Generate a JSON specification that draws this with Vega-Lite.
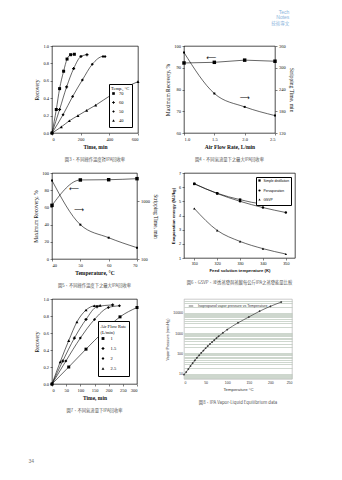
{
"$schema": "https://vega.github.io/schema/vega-lite/v6.json",
"background": "white",
"padding": {"left": 28, "top": 9, "right": 5, "bottom": 5},
"title": {"text": ["Tech", "Notes"], "subtitle": "技術專文", "anchor": "end", "frame": "bounds", "dx": -6, "font": "Liberation Sans", "fontSize": 5, "fontWeight": "normal", "color": "#8ab4dc", "subtitleFont": "Noto Sans CJK TC", "subtitleFontSize": 4.5, "subtitleColor": "#8ab4dc", "lineHeight": 5, "subtitlePadding": 1.5, "offset": 17},
"bounds": "flush",
"columns": 2,
"spacing": {"row": 40, "column": 46},
"resolve": {"scale": {"shape": "independent", "color": "independent"}, "legend": {"shape": "independent", "color": "independent"}},
"datasets": {
"p1": [
{"temp":"70","t":0,"r":0},{"temp":"70","t":30,"r":0.27},{"temp":"70","t":53,"r":0.51},{"temp":"70","t":81,"r":0.71},{"temp":"70","t":105,"r":0.85},{"temp":"70","t":130,"r":0.9},{"temp":"70","t":156,"r":0.905},
{"temp":"60","t":0,"r":0},{"temp":"60","t":53,"r":0.27},{"temp":"60","t":102,"r":0.53},{"temp":"60","t":151,"r":0.74},{"temp":"60","t":202,"r":0.88},{"temp":"60","t":244,"r":0.9},
{"temp":"50","t":0,"r":0},{"temp":"50","t":77,"r":0.21},{"temp":"50","t":144,"r":0.42},{"temp":"50","t":212,"r":0.61},{"temp":"50","t":281,"r":0.79},{"temp":"50","t":356,"r":0.88},{"temp":"50","t":370,"r":0.88},
{"temp":"40","t":0,"r":0},{"temp":"40","t":65,"r":0.07},{"temp":"40","t":121,"r":0.14},{"temp":"40","t":181,"r":0.2},{"temp":"40","t":242,"r":0.26},{"temp":"40","t":305,"r":0.32},{"temp":"40","t":416,"r":0.44},{"temp":"40","t":481,"r":0.5},{"temp":"40","t":544,"r":0.55},{"temp":"40","t":600,"r":0.59}
],
"p2a": [{"flow":1.0,"rec":92.2},{"flow":1.5,"rec":92.5},{"flow":2.0,"rec":93.5},{"flow":2.5,"rec":93.0}],
"p2b": [{"flow":1.0,"st":342},{"flow":1.5,"st":229},{"flow":2.0,"st":192},{"flow":2.5,"st":168}],
"ar2": [{"flow":1.45,"rec":94.4,"a":"⟵"},{"flow":2.0,"rec":76,"a":"⟶"}],
"p3a": [{"temp":40,"rec":62.4},{"temp":50,"rec":91.9},{"temp":60,"rec":92.2},{"temp":70,"rec":93.4}],
"p3b": [{"temp":40,"st":2300},{"temp":50,"st":394},{"temp":60,"st":234},{"temp":70,"st":157}],
"ar3": [{"temp":47.8,"rec":81.4,"a":"⟵"},{"temp":49.5,"rec":56.6,"a":"⟶"}],
"p4": [
{"method":"Simple distillation","T":310,"E":6.23},{"method":"Simple distillation","T":320,"E":5.57},{"method":"Simple distillation","T":330,"E":5.12},{"method":"Simple distillation","T":340,"E":4.84},{"method":"Simple distillation","T":350,"E":4.87},
{"method":"Pervaporation","T":310,"E":6.25},{"method":"Pervaporation","T":320,"E":5.55},{"method":"Pervaporation","T":330,"E":5.0},{"method":"Pervaporation","T":340,"E":4.56},{"method":"Pervaporation","T":350,"E":4.21},
{"method":"GSVP","T":310,"E":4.49},{"method":"GSVP","T":320,"E":2.95},{"method":"GSVP","T":330,"E":2.17},{"method":"GSVP","T":340,"E":1.66},{"method":"GSVP","T":350,"E":1.28}
],
"p5": [
{"flow":"1","t":0,"r":0},{"flow":"1","t":59,"r":0.2},{"flow":"1","t":120,"r":0.41},{"flow":"1","t":180,"r":0.61},{"flow":"1","t":240,"r":0.79},{"flow":"1","t":300,"r":0.9},
{"flow":"1.5","t":0,"r":0},{"flow":"1.5","t":38,"r":0.27},{"flow":"1.5","t":79,"r":0.54},{"flow":"1.5","t":120,"r":0.76},{"flow":"1.5","t":159,"r":0.91},{"flow":"1.5","t":214,"r":0.93},
{"flow":"2","t":0,"r":0},{"flow":"2","t":49,"r":0.27},{"flow":"2","t":100,"r":0.54},{"flow":"2","t":150,"r":0.76},{"flow":"2","t":199,"r":0.9},{"flow":"2","t":238,"r":0.92},
{"flow":"2.5","t":0,"r":0},{"flow":"2.5","t":29,"r":0.26},{"flow":"2.5","t":59,"r":0.51},{"flow":"2.5","t":88,"r":0.73},{"flow":"2.5","t":120,"r":0.87},{"flow":"2.5","t":149,"r":0.92},{"flow":"2.5","t":170,"r":0.925}
],
"p6": [
{"s":"Isopropanol vapor pressure vs Temperature","T":0,"P":9},{"s":"Isopropanol vapor pressure vs Temperature","T":5,"P":12},{"s":"Isopropanol vapor pressure vs Temperature","T":10,"P":17},{"s":"Isopropanol vapor pressure vs Temperature","T":15,"P":24},{"s":"Isopropanol vapor pressure vs Temperature","T":20,"P":33},{"s":"Isopropanol vapor pressure vs Temperature","T":25,"P":45},{"s":"Isopropanol vapor pressure vs Temperature","T":30,"P":61},{"s":"Isopropanol vapor pressure vs Temperature","T":35,"P":81},{"s":"Isopropanol vapor pressure vs Temperature","T":40,"P":107},{"s":"Isopropanol vapor pressure vs Temperature","T":45,"P":139},{"s":"Isopropanol vapor pressure vs Temperature","T":50,"P":180},{"s":"Isopropanol vapor pressure vs Temperature","T":55,"P":230},{"s":"Isopropanol vapor pressure vs Temperature","T":60,"P":291},{"s":"Isopropanol vapor pressure vs Temperature","T":65,"P":365},{"s":"Isopropanol vapor pressure vs Temperature","T":70,"P":456},{"s":"Isopropanol vapor pressure vs Temperature","T":75,"P":563},{"s":"Isopropanol vapor pressure vs Temperature","T":80,"P":694},{"s":"Isopropanol vapor pressure vs Temperature","T":90,"P":1028},{"s":"Isopropanol vapor pressure vs Temperature","T":100,"P":1486},{"s":"Isopropanol vapor pressure vs Temperature","T":125,"P":3200},{"s":"Isopropanol vapor pressure vs Temperature","T":150,"P":6200},{"s":"Isopropanol vapor pressure vs Temperature","T":175,"P":12000},{"s":"Isopropanol vapor pressure vs Temperature","T":200,"P":21000},{"s":"Isopropanol vapor pressure vs Temperature","T":225,"P":34000}
]
},
"concat": [
 {"width": 86, "height": 87,
  "title": {"text": "圖3、不同操作溫度對IPA回收率", "orient": "bottom", "font": "Noto Sans CJK TC", "fontSize": 4.3, "fontWeight": "normal", "color": "#555", "offset": 8},
  "data": {"name": "p1"},
  "encoding": {
   "x": {"field": "t", "type": "quantitative", "scale": {"domain": [0, 600], "nice": false}, "axis": {"values": [0, 200, 400, 600], "title": "Time, min", "titleFontWeight": "bold"}},
   "y": {"field": "r", "type": "quantitative", "scale": {"domain": [0, 1], "nice": false}, "axis": {"values": [0, 0.2, 0.4, 0.6, 0.8, 1], "format": ".1f", "title": "Recovery"}}
  },
  "layer": [
   {"mark": {"type": "line", "interpolate": "monotone", "color": "black", "strokeWidth": 0.6}, "encoding": {"detail": {"field": "temp", "type": "nominal"}}},
   {"mark": {"type": "point", "filled": true, "color": "black", "size": 9, "opacity": 1}, "encoding": {"shape": {"field": "temp", "type": "nominal", "scale": {"domain": ["70", "60", "50", "40"], "range": ["square", "cross", "diamond", "triangle-up"]}, "legend": {"title": "Temp., °C", "orient": "bottom-right", "offset": 6, "padding": 2, "strokeColor": "black", "fillColor": "white", "titleFont": "Liberation Serif", "labelFont": "Liberation Serif", "titleFontSize": 4.5, "labelFontSize": 4.5, "titleFontWeight": "normal", "symbolSize": 7, "rowPadding": 0, "titlePadding": 0.5, "labelOffset": 3}}}}
  ]
 },
 {"width": 91, "height": 87,
  "title": {"text": "圖4、不同氣流量下之最大IPA回收率", "orient": "bottom", "font": "Noto Sans CJK TC", "fontSize": 4.3, "fontWeight": "normal", "color": "#555", "offset": 8},
  "encoding": {
   "x": {"field": "flow", "type": "quantitative", "scale": {"domain": [1, 2.5], "nice": false}, "axis": {"values": [1, 1.5, 2, 2.5], "format": ".1f", "title": "Air Flow Rate, L/min", "titleFontWeight": "bold"}}
  },
  "layer": [
   {"encoding": {"y": {"field": "rec", "type": "quantitative", "scale": {"domain": [60, 100], "nice": false}, "axis": {"orient": "left", "values": [60, 70, 80, 90, 100], "title": "Maximum Recovery, %"}}},
    "layer": [
     {"data": {"name": "p2a"}, "mark": {"type": "line", "color": "black", "strokeWidth": 0.6}},
     {"data": {"name": "p2a"}, "mark": {"type": "square", "color": "black", "size": 12, "opacity": 1}},
     {"data": {"name": "ar2"}, "mark": {"type": "text", "font": "DejaVu Sans", "fontSize": 7, "color": "black"}, "encoding": {"text": {"field": "a"}}}
    ]},
   {"encoding": {"y": {"field": "st", "type": "quantitative", "scale": {"domain": [120, 360], "nice": false}, "axis": {"orient": "right", "values": [120, 180, 240, 300, 360], "title": "Stripping Time, min"}}},
    "layer": [
     {"data": {"name": "p2b"}, "mark": {"type": "line", "interpolate": "monotone", "color": "black", "strokeWidth": 0.6}},
     {"data": {"name": "p2b"}, "mark": {"type": "square", "color": "black", "size": 4, "opacity": 1}}
    ]}
  ],
  "resolve": {"scale": {"y": "independent"}}
 },
 {"width": 85, "height": 86,
  "title": {"text": "圖5、不同操作溫度下之最大IPA回收率", "orient": "bottom", "font": "Noto Sans CJK TC", "fontSize": 4.3, "fontWeight": "normal", "color": "#555", "offset": 8},
  "encoding": {
   "x": {"field": "temp", "type": "quantitative", "scale": {"domain": [40, 70], "nice": false, "zero": false}, "axis": {"values": [40, 50, 60, 70], "title": "Temperature, °C", "titleFontWeight": "bold"}}
  },
  "layer": [
   {"encoding": {"y": {"field": "rec", "type": "quantitative", "scale": {"domain": [0, 100], "nice": false}, "axis": {"orient": "left", "values": [0, 20, 40, 60, 80, 100], "title": "Maximum Recovery, %"}}},
    "layer": [
     {"data": {"name": "p3a"}, "mark": {"type": "line", "interpolate": "monotone", "color": "black", "strokeWidth": 0.6}},
     {"data": {"name": "p3a"}, "mark": {"type": "square", "color": "black", "size": 12, "opacity": 1}},
     {"data": {"name": "ar3"}, "mark": {"type": "text", "font": "DejaVu Sans", "fontSize": 7, "color": "black"}, "encoding": {"text": {"field": "a"}}}
    ]},
   {"encoding": {"y": {"field": "st", "type": "quantitative", "scale": {"type": "log", "domain": [100, 3100], "nice": false}, "axis": {"orient": "right", "values": [100, 1000], "format": "d", "title": "Stripping Time, min"}}},
    "layer": [
     {"data": {"name": "p3b"}, "mark": {"type": "line", "interpolate": "monotone", "color": "black", "strokeWidth": 0.6}},
     {"data": {"name": "p3b"}, "mark": {"type": "square", "color": "black", "size": 4, "opacity": 1}}
    ]}
  ],
  "resolve": {"scale": {"y": "independent"}}
 },
 {"width": 111, "height": 85,
  "title": {"text": "圖6、GSVP、滲透蒸發與蒸餾每公斤IPA之蒸發能量比較", "orient": "bottom", "font": "Noto Sans CJK TC", "fontSize": 4.3, "fontWeight": "normal", "color": "#555", "offset": 8},
  "data": {"name": "p4"},
  "encoding": {
   "x": {"field": "T", "type": "quantitative", "scale": {"domain": [305.5, 354], "nice": false, "zero": false}, "axis": {"values": [310, 320, 330, 340, 350], "title": "Feed solution temperature (K)", "titleFontWeight": "bold", "labelFont": "Liberation Sans", "titleFont": "Liberation Sans", "labelFontSize": 3.8, "titleFontSize": 4.3}},
   "y": {"field": "E", "type": "quantitative", "scale": {"domain": [1, 7], "nice": false, "zero": false}, "axis": {"values": [1, 2, 3, 4, 5, 6, 7], "title": "Evaporation energy (MJ/kg)", "titleFontWeight": "bold", "labelFont": "Liberation Sans", "titleFont": "Liberation Sans", "labelFontSize": 3.8, "titleFontSize": 4.3}}
  },
  "layer": [
   {"mark": {"type": "line", "color": "black", "strokeWidth": 0.6, "interpolate": "monotone"}, "encoding": {"detail": {"field": "method", "type": "nominal"}}},
   {"mark": {"type": "point", "filled": true, "color": "black", "size": 6, "opacity": 1}, "encoding": {"shape": {"field": "method", "type": "nominal", "scale": {"domain": ["Simple distillation", "Pervaporation", "GSVP"], "range": ["square", "circle", "triangle-up"]}, "legend": {"title": null, "orient": "top-right", "offset": 4, "padding": 1.5, "strokeColor": "black", "fillColor": "white", "labelFont": "Liberation Sans", "labelFontSize": 3.3, "symbolSize": 5, "rowPadding": 0, "labelOffset": 2}}}}
  ]
 },
 {"width": 85, "height": 85,
  "title": {"text": "圖7、不同氣流量下IPA回收率", "orient": "bottom", "font": "Noto Sans CJK TC", "fontSize": 4.3, "fontWeight": "normal", "color": "#555", "offset": 8},
  "data": {"name": "p5"},
  "encoding": {
   "x": {"field": "t", "type": "quantitative", "scale": {"domain": [0, 300], "nice": false}, "axis": {"values": [0, 50, 100, 150, 200, 250, 300], "title": "Time, min", "titleFontWeight": "bold"}},
   "y": {"field": "r", "type": "quantitative", "scale": {"domain": [0, 1], "nice": false}, "axis": {"values": [0, 0.2, 0.4, 0.6, 0.8, 1], "format": ".1f", "title": "Recovery"}}
  },
  "layer": [
   {"mark": {"type": "line", "interpolate": "monotone", "color": "black", "strokeWidth": 0.6}, "encoding": {"detail": {"field": "flow", "type": "nominal"}}},
   {"mark": {"type": "point", "filled": true, "color": "black", "size": 9, "opacity": 1}, "encoding": {"shape": {"field": "flow", "type": "nominal", "scale": {"domain": ["1", "1.5", "2", "2.5"], "range": ["square", "cross", "diamond", "triangle-up"]}, "legend": {"title": ["Air Flow Rate", "(L/min)"], "orient": "bottom-right", "offset": 8, "padding": 2.5, "strokeColor": "black", "fillColor": "white", "titleFont": "Liberation Serif", "labelFont": "Liberation Serif", "titleFontSize": 4.5, "labelFontSize": 4.5, "titleFontWeight": "normal", "symbolSize": 8, "rowPadding": 1, "titlePadding": 1.5, "labelOffset": 5}}}}
  ]
 },
 {"width": 108, "height": 80,
  "view": {"stroke": "#b5b5b5"},
  "title": {"text": "圖8、IPA Vapor-Liquid Equilibrium data", "orient": "bottom", "font": "Noto Sans CJK TC", "fontSize": 4.3, "fontWeight": "normal", "color": "#555", "offset": 10},
  "data": {"name": "p6"},
  "encoding": {
   "x": {"field": "T", "type": "quantitative", "scale": {"domain": [0, 250], "nice": false}, "axis": {"values": [0, 50, 100, 150, 200, 250], "title": "Temperature °C", "ticks": false, "labelFont": "Liberation Sans", "titleFont": "Liberation Sans", "labelFontSize": 3.5, "titleFontSize": 4.3, "labelColor": "#333", "titleColor": "#333"}},
   "y": {"field": "P", "type": "quantitative", "scale": {"type": "log", "domain": [5.5, 48000], "nice": false}, "axis": {"values": [6, 7, 8, 9, 10, 20, 30, 40, 50, 60, 70, 80, 90, 100, 200, 300, 400, 500, 600, 700, 800, 900, 1000, 2000, 3000, 4000, 5000, 6000, 7000, 8000, 9000, 10000, 20000, 30000, 40000], "labelExpr": "indexof([10, 100, 1000, 10000], datum.value) >= 0 ? format(datum.value, 'd') : ''", "grid": true, "gridColor": "#b9c6b9", "gridWidth": 0.7, "ticks": false, "title": "Vapor Pressure (mm Hg)", "labelFont": "Liberation Sans", "titleFont": "Liberation Sans", "labelFontSize": 3.5, "titleFontSize": 3.8, "labelColor": "#333", "titleColor": "#333"}}
  },
  "layer": [
   {"mark": {"type": "line", "interpolate": "monotone", "strokeWidth": 0.7}, "encoding": {"color": {"field": "s", "type": "nominal", "scale": {"range": ["#3a3a3a"]}, "legend": {"title": null, "orient": "top-left", "offset": 3, "symbolType": "stroke", "symbolSize": 20, "symbolStrokeWidth": 0.7, "labelFont": "Liberation Sans", "labelFontSize": 3.6, "labelColor": "#333", "padding": 1}}}},
   {"mark": {"type": "point", "shape": "diamond", "filled": true, "size": 5, "color": "#333", "opacity": 1}}
  ]
 },
 {"width": 1, "height": 74, "view": {"stroke": null},
  "data": {"values": [{"page": "34"}]},
  "mark": {"type": "text", "align": "left", "dx": -24, "fontSize": 5, "font": "Liberation Sans", "color": "#777"},
  "encoding": {"text": {"field": "page"}}}
],
"config": {
 "view": {"stroke": "black", "strokeWidth": 0.7},
 "axis": {"grid": false, "domain": false, "tickColor": "black", "tickSize": 2, "tickWidth": 0.5, "labelFont": "Liberation Serif", "labelFontSize": 4.5, "labelColor": "#111", "labelPadding": 1.5, "titleFont": "Liberation Serif", "titleFontSize": 5.5, "titleColor": "#111", "titleFontWeight": "normal", "titlePadding": 3}
}
}
